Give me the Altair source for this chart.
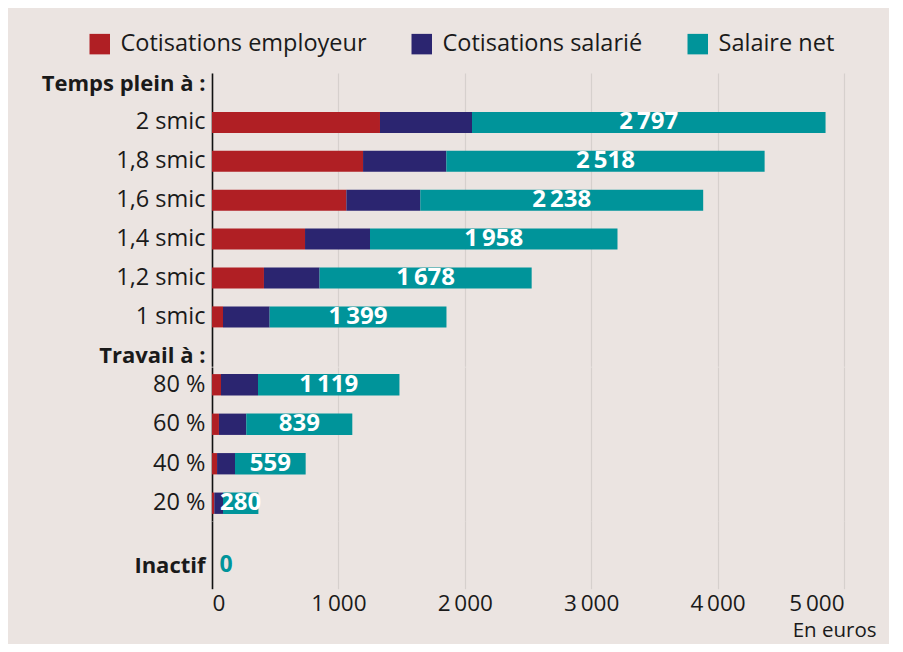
import altair as alt
import pandas as pd

# ---- data ----
categories = ["2 smic", "1,8 smic", "1,6 smic", "1,4 smic", "1,2 smic", "1 smic",
              "80 %", "60 %", "40 %", "20 %", "Inactif"]
groups = ["plein"] * 6 + ["partiel"] * 4 + ["inactif"]
cot_employeur = [1329, 1195, 1063, 736, 411, 87, 71, 55, 40, 18, 0]
cot_salarie = [728, 659, 585, 514, 440, 369, 293, 216, 142, 69, 0]
salaire_net = [2797, 2518, 2238, 1958, 1678, 1399, 1119, 839, 559, 280, 0]
series = ["Cotisations employeur", "Cotisations salarié", "Salaire net"]
headers = ["Temps plein à :", "Travail à :"]
x_ticks = [0, 1000, 2000, 3000, 4000, 5000]

colors = ["#b01f24", "#2b2570", "#00949a"]
BG = "#ebe4e1"
FONT = "Open Sans"
TXT = "#1a1a1a"
THIN = "\u2009"

df = pd.DataFrame({
    "cat": categories,
    "group": groups,
    series[0]: cot_employeur,
    series[1]: cot_salarie,
    series[2]: salaire_net,
})

is_header = "indexof(['Temps plein à :', 'Travail à :', 'Inactif'], datum.value) >= 0"
bold_cond = {"condition": {"test": is_header, "value": "bold"}, "value": "normal"}
size_cond = {"condition": {"test": is_header, "value": 22}, "value": 23.5}

W = 632
xscale = alt.Scale(domain=[0, 5000], nice=False)


def y_axis():
    return alt.Axis(title=None, labelFontSize=size_cond, labelFont=FONT, labelColor=TXT,
                    labelPadding=7, ticks=False, domainColor="#111111", domainWidth=1.6,
                    labelFontWeight=bold_cond, grid=False, labelLimit=400)


def x_axis_hidden():
    return alt.Axis(values=x_ticks, labels=False, ticks=False, domain=False, grid=True,
                    gridColor="#d6d0cd", gridWidth=1.2, title=None)


legend = alt.Legend(orient="none", legendX=-124, legendY=-41, direction="horizontal",
                    title=None, symbolType="square", symbolSize=420, symbolStrokeWidth=0,
                    labelFontSize=23.5, labelFont=FONT, labelColor=TXT, columnPadding=43,
                    labelOffset=9, symbolOpacity=1, labelLimit=600)


def panel(domain, grp, height, po, show_legend):
    base = alt.Chart(df).transform_filter(alt.datum.group == grp)
    yscale = alt.Scale(domain=domain, paddingInner=0.46, paddingOuter=po)
    bars = base.transform_fold(series, as_=["serie", "val"]).transform_calculate(
        ordre="indexof(['Cotisations employeur', 'Cotisations salarié', 'Salaire net'], datum.serie)"
    ).mark_bar().encode(
        x=alt.X("val:Q", stack="zero", scale=xscale, axis=x_axis_hidden()),
        y=alt.Y("cat:N", scale=yscale, axis=y_axis(), sort=domain),
        color=alt.Color("serie:N", scale=alt.Scale(domain=series, range=colors),
                        legend=legend if show_legend else None),
        order=alt.Order("ordre:Q"),
    )
    text = base.transform_calculate(
        mid="datum['Cotisations employeur'] + datum['Cotisations salarié'] + datum['Salaire net'] / 2",
        lbl=f"replace(format(datum['Salaire net'], ','), ',', '{THIN}')",
    ).mark_text(font=FONT, fontSize=24, fontWeight="bold", color="white",
                baseline="middle", align="center").encode(
        x=alt.X("mid:Q", scale=xscale),
        y=alt.Y("cat:N", scale=yscale, sort=domain),
        text="lbl:N",
    )
    return alt.layer(bars, text).properties(width=W, height=height)


panel_a = panel([headers[0]] + categories[:6] + [headers[1]], "plein", 293.3, 0.0, True)
panel_b = panel(categories[6:10], "partiel", 154.0, 0.18, False)

# Inactif panel
base_c = alt.Chart(df).transform_filter(alt.datum.group == "inactif").transform_calculate(
    lbl=f"replace(format(datum['Salaire net'], ','), ',', '{THIN}')"
)
yscale_c = alt.Scale(domain=["Inactif"], paddingInner=0.46, paddingOuter=0.6, align=0.65)
text_c = base_c.mark_text(font=FONT, fontSize=23, fontWeight="bold", color=colors[2],
                          baseline="middle", align="center", dx=14).encode(
    x=alt.X("Salaire net:Q", scale=xscale,
            axis=alt.Axis(values=x_ticks, ticks=False, domain=False, grid=True,
                          gridColor="#d6d0cd", gridWidth=1.2,
                          labelFontSize=22.5, labelFont=FONT, labelColor=TXT, labelPadding=4,
                          labelExpr=f"replace(format(datum.value, ','), ',', '{THIN}')",
                          title="En euros", titleFont=FONT, titleFontSize=20.5,
                          titleFontWeight="normal", titleColor=TXT, titleAlign="right",
                          titleBaseline="middle", titleX=664, titleY=42)),
    y=alt.Y("cat:N", scale=yscale_c, axis=y_axis()),
    text="lbl:N",
)
panel_c = text_c.properties(width=W, height=67.7)

chart = alt.vconcat(panel_a, panel_b, panel_c, spacing=0).properties(
    background=BG,
    padding={"left": 33, "top": 24, "right": 13, "bottom": 2},
).configure_view(stroke=None)

chart.save("out.html", embed_options={"renderer": "svg", "actions": False})
